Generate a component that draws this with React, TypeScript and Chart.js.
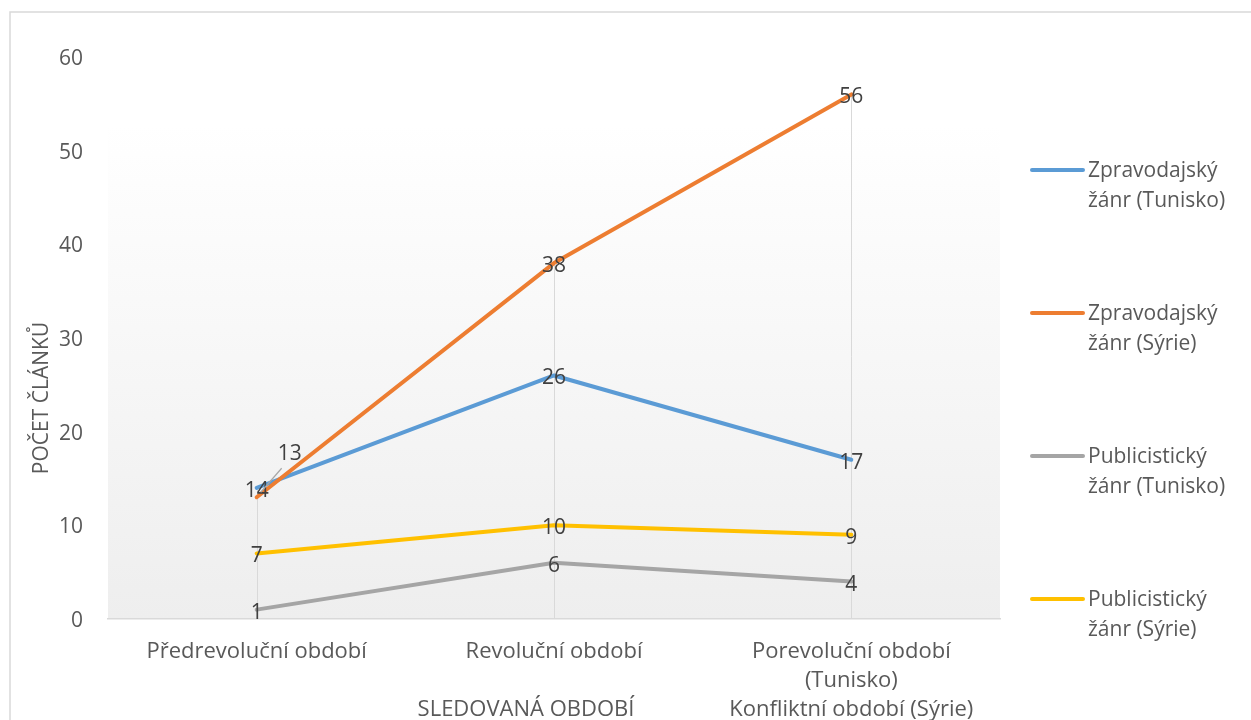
import React, { useEffect, useRef } from "react";
import { Chart, registerables } from "chart.js";

Chart.register(...registerables);

const categories: (string | string[])[] = [
  "Předrevoluční období",
  "Revoluční období",
  ["Porevoluční období", "(Tunisko)", "Konfliktní období (Sýrie)"],
];

const seriesNames: string[][] = [
  ["Zpravodajský", "žánr (Tunisko)"],
  ["Zpravodajský", "žánr (Sýrie)"],
  ["Publicistický", "žánr (Tunisko)"],
  ["Publicistický", "žánr (Sýrie)"],
];

const newsTunisia = [14, 26, 17];
const newsSyria = [13, 38, 56];
const opinionTunisia = [1, 6, 4];
const opinionSyria = [7, 10, 9];

const yTicks = [0, 10, 20, 30, 40, 50, 60];
const yTitle = "POČET ČLÁNKŮ";
const xTitle = "SLEDOVANÁ OBDOBÍ";

const colors = ["#5B9BD5", "#ED7D31", "#A5A5A5", "#FFC000"];
// label displacement (style only) per dataset/point
const labelShift: Record<string, { dx: number; dy: number }> = {
  "1-0": { dx: 33, dy: -46 },
};

const FONT = "'Open Sans', sans-serif";

const decorPlugin = {
  id: "decor",
  beforeDraw(chart: any) {
    const { ctx, chartArea: a, width, height } = chart;
    ctx.save();
    ctx.fillStyle = "#ffffff";
    ctx.fillRect(0, 0, width, height);
    ctx.strokeStyle = "#d9d9d9";
    ctx.lineWidth = 1.5;
    ctx.strokeRect(10, 12, width + 20, height + 20);
    const g = ctx.createLinearGradient(0, a.top, 0, a.bottom);
    g.addColorStop(0, "#ffffff");
    g.addColorStop(0.12, "#ffffff");
    g.addColorStop(1, "#eeeeee");
    ctx.fillStyle = g;
    ctx.fillRect(a.left, a.top, a.right - a.left, a.bottom - a.top);
    ctx.restore();
  },
  beforeDatasetsDraw(chart: any) {
    const { ctx, chartArea: a } = chart;
    const x = chart.scales.x;
    const y = chart.scales.y;
    ctx.save();
    ctx.strokeStyle = "#d9d9d9";
    ctx.lineWidth = 1;
    categories.forEach((_, i) => {
      let max = -Infinity;
      chart.data.datasets.forEach((ds: any) => {
        max = Math.max(max, ds.data[i]);
      });
      const px = Math.round(x.getPixelForValue(i)) + 0.5;
      ctx.beginPath();
      ctx.moveTo(px, y.getPixelForValue(max));
      ctx.lineTo(px, a.bottom);
      ctx.stroke();
    });
    ctx.restore();
  },
  afterDatasetsDraw(chart: any) {
    const { ctx, chartArea: a } = chart;
    ctx.save();
    // data labels
    ctx.font = `21px ${FONT}`;
    ctx.fillStyle = "#404040";
    ctx.textAlign = "center";
    ctx.textBaseline = "middle";
    chart.data.datasets.forEach((ds: any, di: number) => {
      const meta = chart.getDatasetMeta(di);
      meta.data.forEach((pt: any, i: number) => {
        const s = labelShift[`${di}-${i}`];
        const lx = pt.x + (s ? s.dx : 0);
        const ly = pt.y + (s ? s.dy : 0);
        if (s) {
          ctx.save();
          ctx.strokeStyle = "#a6a6a6";
          ctx.lineWidth = 1.2;
          ctx.beginPath();
          ctx.moveTo(lx - 8, ly + 17);
          ctx.lineTo(pt.x + 4, pt.y - 5);
          ctx.stroke();
          ctx.restore();
        }
        ctx.fillText(String(ds.data[i]), lx, ly + 3);
      });
    });

    // axis titles
    ctx.fillStyle = "#595959";
    ctx.font = `22px ${FONT}`;
    ctx.fillText(xTitle, (a.left + a.right) / 2 - 28, 710);
    ctx.save();
    ctx.font = `21px ${FONT}`;
    ctx.translate(42, (a.top + a.bottom) / 2 + 60);
    ctx.rotate(-Math.PI / 2);
    ctx.fillText(yTitle, 0, 0);
    ctx.restore();

    // legend
    ctx.textAlign = "left";
    ctx.font = `21px ${FONT}`;
    seriesNames.forEach((lines, i) => {
      const y0 = 170 + i * 143;
      ctx.strokeStyle = colors[i];
      ctx.lineWidth = 4;
      ctx.lineCap = "round";
      ctx.beginPath();
      ctx.moveTo(a.right + 32, y0);
      ctx.lineTo(a.right + 83, y0);
      ctx.stroke();
      ctx.fillStyle = "#595959";
      lines.forEach((t, k) => ctx.fillText(t, a.right + 88, y0 + 1 + k * 30));
    });
    ctx.restore();
  },
};

export default function App() {
  const ref = useRef<HTMLCanvasElement | null>(null);
  useEffect(() => {
    if (!ref.current) return;
    const data = [newsTunisia, newsSyria, opinionTunisia, opinionSyria];
    const chart = new Chart(ref.current, {
      type: "line",
      data: {
        labels: categories,
        datasets: data.map((d, i) => ({
          label: seriesNames[i].join(" "),
          data: d,
          borderColor: colors[i],
          backgroundColor: colors[i],
          borderWidth: 4,
          borderCapStyle: "round" as const,
          borderJoinStyle: "round" as const,
          pointRadius: 0,
          tension: 0,
          order: i === 1 ? 0 : i + 1,
        })),
      },
      options: {
        animation: false,
        responsive: false,
        maintainAspectRatio: false,
        layout: { padding: { left: 0, right: 251, top: 57, bottom: 0 } },
        plugins: { legend: { display: false }, tooltip: { enabled: false } },
        scales: {
          x: {
            offset: true,
            grid: { display: false, drawTicks: false },
            border: { display: true, color: "#d9d9d9", width: 1.5 },
            ticks: {
              color: "#595959",
              font: { family: FONT, size: 22, lineHeight: 1.32 },
              padding: 18,
              autoSkip: false,
              maxRotation: 0,
            },
            afterFit: (s: any) => {
              s.height = 101;
            },
          },
          y: {
            min: 0,
            max: 60,
            afterBuildTicks: (s: any) => {
              s.ticks = yTicks.map((v) => ({ value: v }));
            },
            grid: { display: false, drawTicks: false },
            border: { display: false },
            ticks: {
              color: "#595959",
              font: { family: FONT, size: 21 },
              padding: 25,
              labelOffset: 2,
            },
            afterFit: (s: any) => {
              s.width = 108;
            },
          },
        },
      },
      plugins: [decorPlugin],
    });
    return () => chart.destroy();
  }, []);
  return (
    <div style={{ position: "fixed", left: 0, top: 0, width: 1251, height: 720 }}>
      <canvas ref={ref} width={1251} height={720} />
    </div>
  );
}
